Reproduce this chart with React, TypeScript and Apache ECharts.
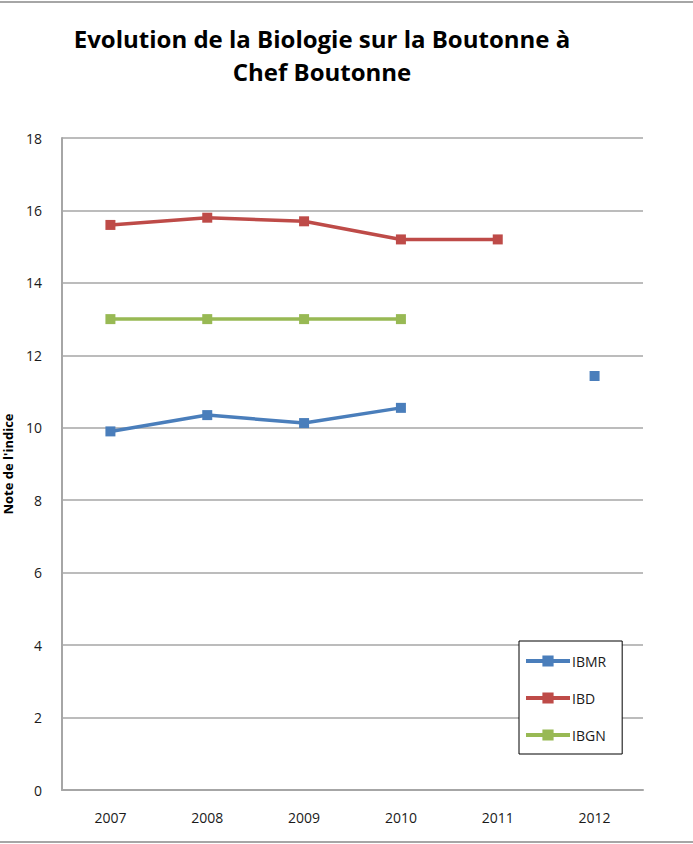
import React, { useEffect, useRef } from "react";
import * as echarts from "echarts";

const years = ["2007", "2008", "2009", "2010", "2011", "2012"];
const ibmr = [9.9, 10.35, 10.13, 10.55, null, 11.43];
const ibd = [15.6, 15.8, 15.7, 15.2, 15.2, null];
const ibgn = [13, 13, 13, 13, null, null];
const yTicks = { min: 0, max: 18, interval: 2 };

const FONT = "'Open Sans', 'Noto Sans', sans-serif";

export default function App() {
  const ref = useRef<HTMLDivElement>(null);
  useEffect(() => {
    document.body.style.margin = "0";
    const chart = echarts.init(ref.current!, null, { renderer: "svg" });
    const mk = (name: string, data: (number | null)[], color: string) => ({
      name,
      type: "line",
      data,
      symbol: "rect",
      symbolSize: 10,
      connectNulls: false,
      lineStyle: { color, width: 3.5 },
      itemStyle: { color },
    });
    chart.setOption({
      animation: false,
      textStyle: { fontFamily: FONT },
      title: {
        text: "Evolution de la Biologie sur la Boutonne à\nChef Boutonne",
        left: 317,
        textAlign: "center",
        top: 17,
        textStyle: { fontSize: 24, fontWeight: "bold", color: "#000", lineHeight: 33, fontFamily: FONT },
      },
      grid: { left: 62, right: 50, top: 138, bottom: 54, outerBoundsMode: "none", containLabel: false },
      xAxis: {
        type: "category",
        data: years,
        boundaryGap: true,
        axisLine: { lineStyle: { color: "#a6a6a6", width: 2 } },
        axisTick: { show: false },
        axisLabel: { color: "#1a1a1a", fontSize: 14, margin: 20 },
      },
      yAxis: {
        type: "value",
        min: yTicks.min,
        max: yTicks.max,
        interval: yTicks.interval,
        name: "Note de l'indice",
        nameLocation: "middle",
        nameRotate: 90,
        nameGap: 48,
        nameTextStyle: { fontSize: 13, fontWeight: "bold", color: "#000" },
        axisLine: { show: true, lineStyle: { color: "#a6a6a6", width: 2 } },
        axisTick: { show: false },
        axisLabel: { color: "#1a1a1a", fontSize: 14, margin: 20 },
        splitLine: { lineStyle: { color: "#a6a6a6", width: 1.5 } },
      },
      legend: {
        orient: "vertical",
        left: 519,
        top: 641,
        data: ["IBMR", "IBD", "IBGN"],
        backgroundColor: "#fff",
        borderColor: "#000",
        borderWidth: 1,
        padding: [13, 16, 12, 5],
        itemGap: 23,
        itemWidth: 44,
        itemHeight: 14,
        itemStyle: { borderWidth: 0 },
        lineStyle: { width: 4 },
        textStyle: { fontSize: 14, color: "#1a1a1a", padding: [0, 0, 0, -3] },
      },
      graphic: [
        { type: "line", shape: { x1: 0, y1: 2, x2: 693, y2: 2 }, style: { stroke: "#a6a6a6", lineWidth: 2 } },
        { type: "line", shape: { x1: 0, y1: 842, x2: 693, y2: 842 }, style: { stroke: "#a6a6a6", lineWidth: 2 } },
      ],
      series: [
        mk("IBMR", ibmr, "#4a7ebb"),
        mk("IBD", ibd, "#be4b48"),
        mk("IBGN", ibgn, "#98b954"),
      ],
    });
    return () => chart.dispose();
  }, []);
  return <div ref={ref} style={{ width: 693, height: 844 }} />;
}
